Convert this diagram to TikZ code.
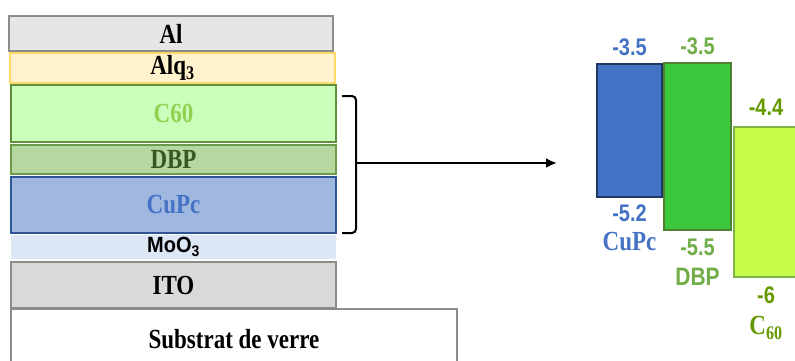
\documentclass[tikz,border=0pt]{standalone}
\usepackage{fontspec}
\setmainfont{Liberation Serif}
\setsansfont{Liberation Sans}
\definecolor{mAlFill}{HTML}{E7E6E6}
\definecolor{mGreyLine}{HTML}{8C8C8C}
\definecolor{mAlqFill}{HTML}{FFF2CC}
\definecolor{mAlqLine}{HTML}{FFD966}
\definecolor{mCsixFill}{HTML}{C9FFBA}
\definecolor{mCsixLine}{HTML}{5E8F3C}
\definecolor{mCsixText}{HTML}{92D050}
\definecolor{mDbpFill}{HTML}{B6D7A0}
\definecolor{mDbpLine}{HTML}{6A9A4A}
\definecolor{mDbpText}{HTML}{385723}
\definecolor{mCuFill}{HTML}{A0B7E0}
\definecolor{mCuLine}{HTML}{2F5597}
\definecolor{mBlue}{HTML}{4472C4}
\definecolor{mMoFill}{HTML}{DDE6F4}
\definecolor{mItoFill}{HTML}{D9D9D9}
\definecolor{mDarkBlue}{HTML}{1F3864}
\definecolor{mGreen}{HTML}{3CC83C}
\definecolor{mGreenLine}{HTML}{4F7F30}
\definecolor{mLeaf}{HTML}{70AD47}
\definecolor{mLime}{HTML}{C6FD4A}
\definecolor{mLimeLine}{HTML}{7FB24A}
\definecolor{mOlive}{HTML}{669900}
\usetikzlibrary{arrows.meta, positioning}
\newcommand{\tall}[1]{\scalebox{1}[1.2]{#1}}

\begin{document}
\begin{tikzpicture}[x=1pt, y=-1pt,
  layer/.style={minimum width=325pt, inner sep=0pt, line width=1.7pt,
                font=\fontsize{23}{26}\selectfont\bfseries},
  band/.style={inner sep=0pt, line width=1.7pt},
  val/.style={inner sep=0pt, font=\sffamily\fontsize{20}{22}\selectfont\bfseries},
  matname/.style={inner sep=0pt, font=\fontsize{23}{26}\selectfont\bfseries}]
\useasboundingbox (0,0) rectangle (795,360);

% device stack
\node[layer, draw=mGreyLine, fill=mAlFill, minimum width=324pt, minimum height=35pt]
  (al) at (171,33.5) {\tall{Al}};
\node[layer, draw=mAlqLine, fill=mAlqFill, minimum height=30pt]
  (alq) at (172.5,68) {\tall{Alq\textsubscript{3}}};
\node[layer, draw=mCsixLine, fill=mCsixFill, text=mCsixText, minimum height=57pt]
  (csix) at (173.5,113.5) {\tall{C60}};
\node[layer, draw=mDbpLine, fill=mDbpFill, text=mDbpText, minimum height=29pt]
  (dbp) at (173.5,159.5) {\tall{DBP}};
\node[layer, draw=mCuLine, fill=mCuFill, text=mBlue, minimum height=56pt]
  (cupc) at (173.5,205) {\tall{CuPc}};
\node[layer, fill=mMoFill, minimum height=24pt, font=\sffamily\fontsize{20}{22}\selectfont\bfseries]
  (moo) at (173.5,247) {\scalebox{1}[1.1]{MoO\textsubscript{3}}};
\node[layer, draw=mGreyLine, fill=mItoFill, minimum height=46pt]
  (ito) at (173.5,285) {\tall{ITO}};
\node[layer, draw=mGreyLine, fill=white, minimum width=446pt, minimum height=61pt]
  (glass) at (234,339.5) {\tall{Substrat de verre}};

% bracket and arrow
\draw[line width=2pt, rounded corners=4pt] (342,96) -- (356,96) -- (356,233) -- (342,233);
\coordinate (brk) at (356,163);
\coordinate (tip) at (557,163);
\draw[-{Latex[length=11pt,width=10pt]}, line width=2.6pt] (brk) -- (tip);

% energy levels
\node[band, draw=mDarkBlue, fill=mBlue, minimum width=65pt, minimum height=133pt]
  (cuband) at (629.5,130.5) {};
\node[band, draw=mGreenLine, fill=mGreen, minimum width=67pt, minimum height=167pt]
  (dbpband) at (697.5,146.5) {};
\node[band, draw=mLimeLine, fill=mLime, minimum width=64pt, minimum height=150pt]
  (csixband) at (766,202) {};

\node[val, text=mBlue, above=7pt of cuband] (cuhigh) {\tall{-3.5}};
\node[val, text=mBlue, below=7pt of cuband] (culow) {\tall{-5.2}};
\node[matname, text=mBlue, below=10pt of culow] (cuname) {\tall{CuPc}};
\node[val, text=mLeaf, above=7pt of dbpband] (dbphigh) {\tall{-3.5}};
\node[val, text=mLeaf, below=8pt of dbpband] (dbplow) {\tall{-5.5}};
\node[val, text=mLeaf, below=12pt of dbplow, font=\sffamily\fontsize{21}{23}\selectfont\bfseries] (dbpname) {\tall{DBP}};
\node[val, text=mOlive, above=10pt of csixband] (csixhigh) {\tall{-4.4}};
\node[val, text=mOlive, below=9pt of csixband] (csixlow) {\tall{-6}};
\node[matname, text=mOlive, below=12pt of csixlow] (csixname) {\tall{C\textsubscript{60}}};
\end{tikzpicture}
\end{document}
